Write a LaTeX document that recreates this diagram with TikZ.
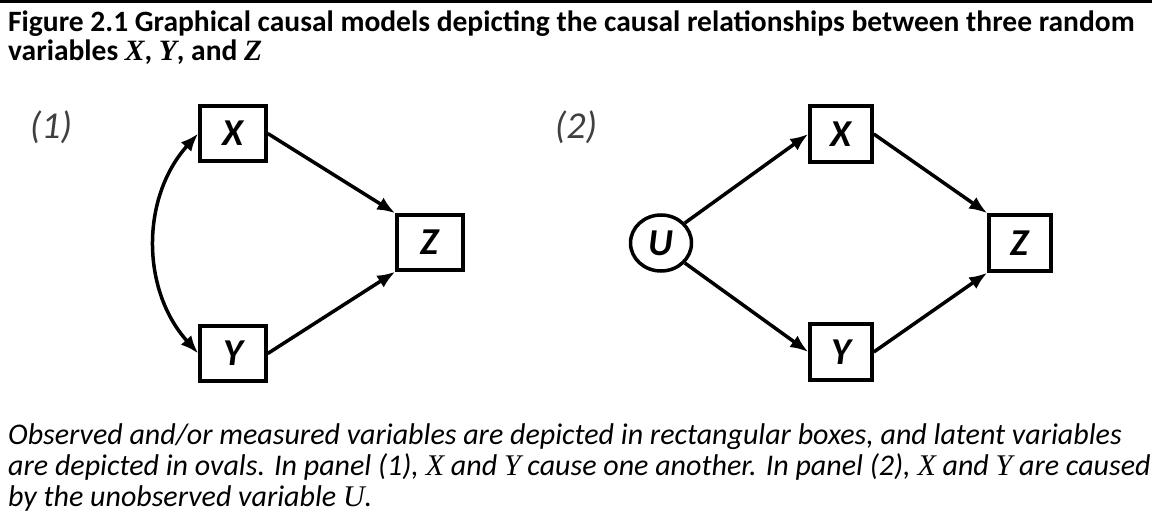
\documentclass[tikz,border=0pt]{standalone}
\usepackage{fontspec}
\setmainfont{Carlito}
\newfontfamily\cambriafont{Liberation Serif}
\usetikzlibrary{arrows.meta,shapes.geometric,positioning}

\newcommand{\mvar}[1]{{\cambriafont\itshape #1}}

\tikzset{
  var/.style={draw,line width=3.5pt,minimum width=66pt,minimum height=55pt,inner sep=0pt,
    font=\fontsize{38}{38}\selectfont\bfseries\itshape},
  latent/.style={var,ellipse,minimum width=61pt,minimum height=56pt},
  cause/.style={line width=3.5pt,-{Latex[length=18pt,width=14pt]}},
  panel/.style={text=black!75,font=\fontsize{38}{38}\selectfont\itshape},
}

\begin{document}
\begin{tikzpicture}[x=1pt,y=-1pt]
\useasboundingbox (0,0) rectangle (1157,513);

\draw[line width=3.5pt] (0,1.75) -- (1152,1.75);

\node[anchor=north west,align=left,inner sep=0pt,font=\fontsize{29.5}{29}\selectfont\bfseries] (title) at (8,11)
  {Figure 2.1 Graphical causal models depicting the causal relationships between three random\\
   variables \mvar{X}, \mvar{Y}, and \mvar{Z}};

% panel (1)
\node[panel] (p1) at (51,127) {(1)};
\node[var] (x1) at (233,133.5) {X};
\node[var] (y1) at (233,353.5) {Y};
\node[var] (z1) at (430,242.5) {Z};

\draw[line width=3.5pt,{Latex[length=18pt,width=14pt]}-{Latex[length=18pt,width=14pt]}] (x1.west) to[bend right=42] (y1.west);
\draw[cause] (x1.east) -- (z1.north west);
\draw[cause] (y1.east) -- (z1.south west);

% panel (2)
\node[panel] (p2) at (576,127) {(2)};
\node[latent] (u2) at (661,243) {U};
\node[var,minimum width=62pt,minimum height=56pt] (x2) at (841,134) {X};
\node[var,minimum width=62pt,minimum height=56pt] (y2) at (841,352) {Y};
\node[var,minimum width=62pt,minimum height=56pt] (z2) at (1020,243) {Z};

\draw[cause] (u2.40) -- (x2.west);
\draw[cause] (u2.-40) -- (y2.west);
\draw[cause] (x2.east) -- (z2.north west);
\draw[cause] (y2.east) -- (z2.south west);

\node[anchor=north west,align=left,inner sep=0pt,font=\fontsize{30}{31}\selectfont\itshape] (note) at (8,423)
  {Observed and/or measured variables are depicted in rectangular boxes, and latent variables\\
   are depicted in ovals. In panel (1), \mvar{X} and \mvar{Y} cause one another. In panel (2), \mvar{X} and \mvar{Y} are caused\\
   by the unobserved variable \mvar{U}.};
\end{tikzpicture}
\end{document}
